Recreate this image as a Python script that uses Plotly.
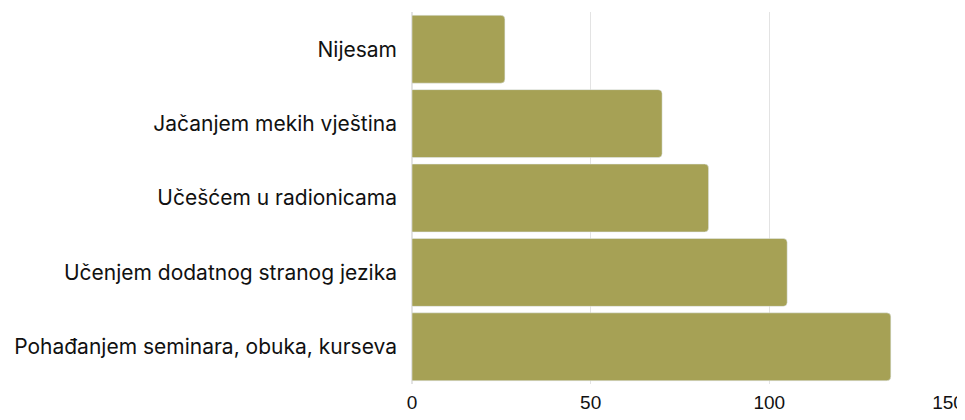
import plotly.graph_objects as go

categories = [
    "Pohađanjem seminara, obuka, kurseva",
    "Učenjem dodatnog stranog jezika",
    "Učešćem u radionicama",
    "Jačanjem mekih vještina",
    "Nijesam",
]
values = [134, 105, 83, 70, 26]

fig = go.Figure()
fig.add_trace(go.Bar(x=values, y=categories, orientation="h",
                     marker=dict(color="#A6A155", cornerradius=4)))

# page body has an 8px margin, so the figure is a bit smaller than the window
fig.update_layout(
    width=957, height=412,
    margin=dict(l=404, r=17, t=4, b=36),
    plot_bgcolor="white", paper_bgcolor="white",
    bargap=0.087,
    showlegend=False,
    font=dict(family="Inter", color="#111111"),
    xaxis=dict(range=[0, 150], tickvals=[0, 50, 100, 150],
               showgrid=True, gridcolor="#e3e3e3", gridwidth=1,
               zeroline=True, zerolinecolor="#e3e3e3",
               tickfont=dict(size=19, family="Liberation Sans, Arial"),
               ticks="", ticklabelstandoff=5, ticklabeloverflow="allow",
               automargin=False),
    yaxis=dict(tickfont=dict(size=21), ticks="", ticklabelstandoff=14,
               automargin=False),
)

fig.write_html("out.html")
